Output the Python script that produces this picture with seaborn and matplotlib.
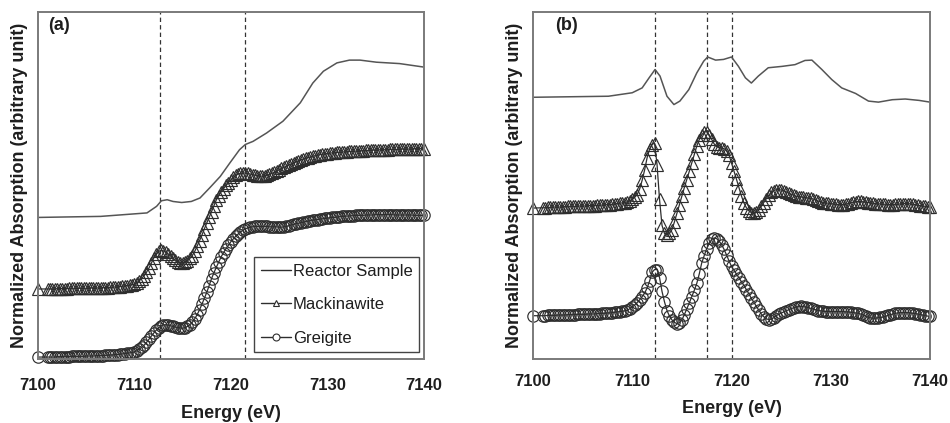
import matplotlib
matplotlib.use("Agg")
import matplotlib.pyplot as plt
import seaborn as sns
from matplotlib.lines import Line2D

# ---------------- data ----------------
energy_grid = [7100.0,
    7101.0, 7101.25, 7101.5, 7101.75, 7102.0, 7102.25, 7102.5, 7102.75,
    7103.0, 7103.25, 7103.5, 7103.75, 7104.0, 7104.25, 7104.5, 7104.75,
    7105.0, 7105.25, 7105.5, 7105.75, 7106.0, 7106.25, 7106.5, 7106.75,
    7107.0, 7107.25, 7107.5, 7107.75, 7108.0, 7108.25, 7108.5, 7108.75,
    7109.0, 7109.25, 7109.5, 7109.75, 7110.0, 7110.25, 7110.5, 7110.75,
    7111.0, 7111.25, 7111.5, 7111.75, 7112.0, 7112.25, 7112.5, 7112.75,
    7113.0, 7113.25, 7113.5, 7113.75, 7114.0, 7114.25, 7114.5, 7114.75,
    7115.0, 7115.25, 7115.5, 7115.75, 7116.0, 7116.25, 7116.5, 7116.75,
    7117.0, 7117.25, 7117.5, 7117.75, 7118.0, 7118.25, 7118.5, 7118.75,
    7119.0, 7119.25, 7119.5, 7119.75, 7120.0, 7120.25, 7120.5, 7120.75,
    7121.0, 7121.25, 7121.5, 7121.75, 7122.0, 7122.25, 7122.5, 7122.75,
    7123.0, 7123.25, 7123.5, 7123.75, 7124.0, 7124.25, 7124.5, 7124.75,
    7125.0, 7125.25, 7125.5, 7125.75, 7126.0, 7126.25, 7126.5, 7126.75,
    7127.0, 7127.25, 7127.5, 7127.75, 7128.0, 7128.25, 7128.5, 7128.75,
    7129.0, 7129.25, 7129.5, 7129.75, 7130.0, 7130.25, 7130.5, 7130.75,
    7131.0, 7131.25, 7131.5, 7131.75, 7132.0, 7132.25, 7132.5, 7132.75,
    7133.0, 7133.25, 7133.5, 7133.75, 7134.0, 7134.25, 7134.5, 7134.75,
    7135.0, 7135.25, 7135.5, 7135.75, 7136.0, 7136.25, 7136.5, 7136.75,
    7137.0, 7137.25, 7137.5, 7137.75, 7138.0, 7138.25, 7138.5, 7138.75,
    7139.0, 7139.25, 7139.5, 7139.75, 7140.0]

# panel (a): XANES spectra
a_reactor_e = [7100, 7106.5, 7111.3, 7112.3, 7112.8, 7113.4, 7114.0, 7114.9, 7115.9,
               7116.8, 7117.8, 7118.9, 7119.9, 7120.9, 7121.5, 7122.3, 7123.7, 7125.4,
               7127.2, 7128.5, 7129.6, 7131.0, 7132.3, 7133.4, 7135.1, 7137.5, 7140]
a_reactor_y = [0.408, 0.411, 0.421, 0.440, 0.456, 0.459, 0.454, 0.451, 0.454,
               0.464, 0.493, 0.526, 0.565, 0.603, 0.618, 0.627, 0.651, 0.685,
               0.738, 0.795, 0.829, 0.853, 0.861, 0.861, 0.855, 0.851, 0.841]

a_mack_y = [0.202,
    .202, .202, .202, .202, .203, .203, .203, .203,
    .203, .204, .204, .204, .204, .204, .204, .204,
    .204, .205, .205, .205, .205, .205, .205, .206,
    .206, .206, .207, .207, .208, .208, .209, .210,
    .211, .212, .213, .214, .216, .220, .226, .232,
    .240, .250, .262, .276, .291, .302, .310, .313,
    .312, .308, .303, .297, .290, .285, .280, .278,
    .277, .279, .283, .290, .298, .310, .325, .341,
    .357, .375, .392, .408, .425, .442, .459, .471,
    .482, .491, .500, .508, .516, .523, .529, .533,
    .535, .536, .536, .535, .533, .531, .530, .528,
    .527, .527, .527, .529, .532, .535, .538, .541,
    .545, .549, .552, .556, .559, .562, .565, .568,
    .571, .574, .576, .578, .580, .582, .584, .586,
    .587, .589, .590, .591, .592, .593, .594, .594,
    .595, .596, .596, .597, .597, .598, .598, .599,
    .599, .600, .600, .600, .601, .601, .602, .602,
    .602, .602, .603, .603, .603, .603, .604, .604,
    .604, .604, .605, .605, .605, .605, .605, .605,
    .606, .606, .606, .606, .606]

a_greig_y = [0.006,
    .006, .006, .006, .006, .007, .007, .007, .007,
    .007, .007, .008, .008, .008, .008, .008, .008,
    .009, .009, .009, .009, .010, .010, .010, .010,
    .011, .011, .012, .012, .013, .013, .014, .015,
    .016, .017, .018, .019, .021, .024, .029, .034,
    .040, .048, .057, .066, .075, .083, .090, .095,
    .099, .099, .098, .096, .094, .092, .091, .090,
    .089, .091, .094, .099, .106, .116, .128, .142,
    .158, .175, .192, .212, .232, .249, .265, .280,
    .295, .307, .318, .328, .338, .346, .354, .360,
    .366, .371, .375, .378, .380, .381, .382, .382,
    .382, .382, .382, .382, .381, .381, .381, .381,
    .380, .380, .381, .382, .384, .386, .388, .390,
    .391, .393, .394, .396, .397, .399, .400, .401,
    .402, .403, .404, .405, .406, .407, .408, .408,
    .409, .410, .411, .411, .412, .412, .413, .413,
    .414, .414, .414, .414, .415, .415, .415, .415,
    .416, .416, .416, .416, .416, .416, .416, .416,
    .415, .415, .415, .415, .415, .415, .415, .415,
    .414, .414, .414, .414, .414]

# panel (b): first derivative spectra
b_reactor_e = [7100, 7107.6, 7110.0, 7111.0, 7111.7, 7112.3, 7112.8, 7113.5, 7114.2,
               7114.8, 7115.7, 7116.5, 7117.2, 7117.6, 7118.4, 7119.2, 7120.0, 7120.7,
               7121.4, 7122.0, 7122.7, 7123.7, 7125.1, 7126.4, 7127.4, 7128.1, 7129.1,
               7130.1, 7131.1, 7132.5, 7133.8, 7134.8, 7136.2, 7137.5, 7138.9, 7140]
b_reactor_y = [0.754, 0.757, 0.767, 0.781, 0.810, 0.834, 0.815, 0.757, 0.733,
               0.743, 0.776, 0.824, 0.858, 0.870, 0.861, 0.863, 0.870, 0.843,
               0.810, 0.795, 0.815, 0.839, 0.843, 0.848, 0.860, 0.861, 0.834,
               0.805, 0.781, 0.765, 0.743, 0.740, 0.747, 0.749, 0.745, 0.740]

b_mack_y = [0.435,
    .436, .436, .437, .437, .438, .438, .438, .438,
    .439, .439, .440, .440, .440, .440, .441, .441,
    .441, .441, .442, .442, .442, .442, .443, .443,
    .444, .444, .445, .445, .446, .447, .448, .449,
    .450, .451, .453, .456, .460, .466, .474, .490,
    .515, .545, .580, .605, .618, .622, .560, .460,
    .385, .362, .358, .362, .373, .395, .420, .445,
    .470, .494, .517, .541, .565, .590, .613, .632,
    .646, .654, .655, .646, .633, .620, .612, .609,
    .608, .606, .600, .588, .565, .542, .518, .494,
    .470, .450, .436, .427, .422, .421, .423, .430,
    .440, .451, .462, .472, .480, .485, .488, .488,
    .487, .485, .482, .478, .475, .472, .469, .468,
    .467, .466, .465, .464, .463, .461, .458, .455,
    .453, .451, .450, .449, .448, .447, .446, .445,
    .445, .445, .446, .448, .450, .452, .453, .454,
    .454, .453, .452, .451, .450, .449, .448, .447,
    .447, .446, .446, .445, .445, .445, .446, .446,
    .447, .448, .448, .448, .447, .446, .445, .443,
    .442, .441, .440, .439, .438]

b_greig_y = [0.125,
    .125, .125, .126, .126, .126, .126, .127, .127,
    .127, .127, .128, .128, .128, .128, .129, .129,
    .129, .129, .130, .130, .130, .130, .131, .131,
    .132, .132, .133, .133, .134, .135, .136, .137,
    .138, .139, .141, .145, .150, .156, .163, .171,
    .180, .190, .205, .225, .250, .258, .258, .235,
    .195, .165, .140, .124, .113, .106, .102, .105,
    .113, .128, .145, .162, .180, .198, .218, .245,
    .277, .298, .318, .333, .345, .349, .347, .340,
    .330, .316, .300, .283, .267, .256, .245, .234,
    .223, .212, .200, .188, .175, .164, .152, .141,
    .130, .122, .116, .114, .115, .119, .125, .129,
    .132, .136, .139, .142, .145, .148, .150, .151,
    .152, .151, .150, .148, .146, .144, .142, .140,
    .139, .138, .137, .137, .137, .137, .137, .137,
    .137, .137, .136, .136, .135, .134, .133, .132,
    .130, .127, .124, .121, .119, .118, .118, .119,
    .120, .121, .123, .126, .128, .130, .132, .133,
    .134, .134, .134, .134, .133, .132, .131, .130,
    .128, .127, .125, .124, .123]

a_dashes = [7112.7, 7121.5]
b_dashes = [7112.3, 7117.5, 7120.1]
x_ticks = [7100, 7110, 7120, 7130, 7140]
series_names = ["Reactor Sample", "Mackinawite", "Greigite"]
panel_labels = ["(a)", "(b)"]

# ---------------- style ----------------
sns.set_theme(style="white")
plt.rcParams['font.family'] = ['Liberation Sans', 'DejaVu Sans']

LINE = "#2e2e2e"
REACT = "#555555"
FRAME = "#7a7a7a"
TEXT = "#1e1e1e"

fig = plt.figure(figsize=(9.5, 4.23), dpi=100)
ax1 = fig.add_axes([0.040, 0.151, 0.406, 0.821])
ax2 = fig.add_axes([0.561, 0.151, 0.418, 0.821])


def draw(ax, re, ry, my, gy, dashes, label, label_x, pad, lpad):
    sns.lineplot(x=re, y=ry, ax=ax, color=REACT, linewidth=1.1, sort=False,
                 estimator=None)
    sns.lineplot(x=energy_grid, y=my, ax=ax, color=LINE, linewidth=0.9,
                 sort=False, estimator=None, marker="^", markersize=8.2,
                 markerfacecolor="none", markeredgecolor=LINE,
                 markeredgewidth=0.85, clip_on=False)
    sns.lineplot(x=energy_grid, y=gy, ax=ax, color=LINE, linewidth=0.9,
                 sort=False, estimator=None, marker="o", markersize=8.2,
                 markerfacecolor="none", markeredgecolor=LINE,
                 markeredgewidth=0.85, clip_on=False)
    for d in dashes:
        ax.axvline(d, color="#333333", linewidth=0.9, linestyle=(0, (3.5, 2.5)),
                   zorder=1)
    ax.set_xlim(7100, 7140)
    ax.set_ylim(0, 1)
    ax.set_xticks(x_ticks)
    ax.set_xticklabels([str(t) for t in x_ticks], fontsize=12,
                       fontweight="bold", color=TEXT)
    ax.set_yticks([])
    ax.tick_params(axis="x", length=0, pad=pad)
    for s in ax.spines.values():
        s.set_color(FRAME)
        s.set_linewidth(1.4)
        s.set_visible(True)
    ax.set_xlabel("Energy (eV)", fontsize=13, fontweight="bold",
                  color=TEXT, labelpad=lpad)
    ax.set_ylabel("Normalized Absorption (arbitrary unit)", fontsize=13,
                  fontweight="bold", color=TEXT, labelpad=7)
    ax.text(label_x, 0.985, label, transform=ax.transAxes, fontsize=13,
            fontweight="bold", va="top", ha="left", color=TEXT)


draw(ax1, a_reactor_e, a_reactor_y, a_mack_y, a_greig_y, a_dashes,
     panel_labels[0], 0.026, 13.5, 9)
draw(ax2, b_reactor_e, b_reactor_y, b_mack_y, b_greig_y, b_dashes,
     panel_labels[1], 0.055, 10.5, 8)

handles = [
    Line2D([], [], color=LINE, linewidth=1.0),
    Line2D([], [], color=LINE, linewidth=1.0, marker="^", markersize=5,
           markerfacecolor="white", markeredgecolor=LINE, markeredgewidth=0.8),
    Line2D([], [], color=LINE, linewidth=1.0, marker="o", markersize=5,
           markerfacecolor="white", markeredgecolor=LINE, markeredgewidth=0.8),
]
leg = ax1.legend(handles, series_names, loc="lower right",
                 bbox_to_anchor=(0.988, 0.02), fontsize=12, frameon=True,
                 fancybox=False, edgecolor="#444444", framealpha=1,
                 handlelength=1.8, handletextpad=0.1, labelspacing=1.1,
                 borderpad=0.4, borderaxespad=0.0)
leg.get_frame().set_linewidth(1.0)
for t in leg.get_texts():
    t.set_color(TEXT)

fig.savefig("out.png", dpi=100)
